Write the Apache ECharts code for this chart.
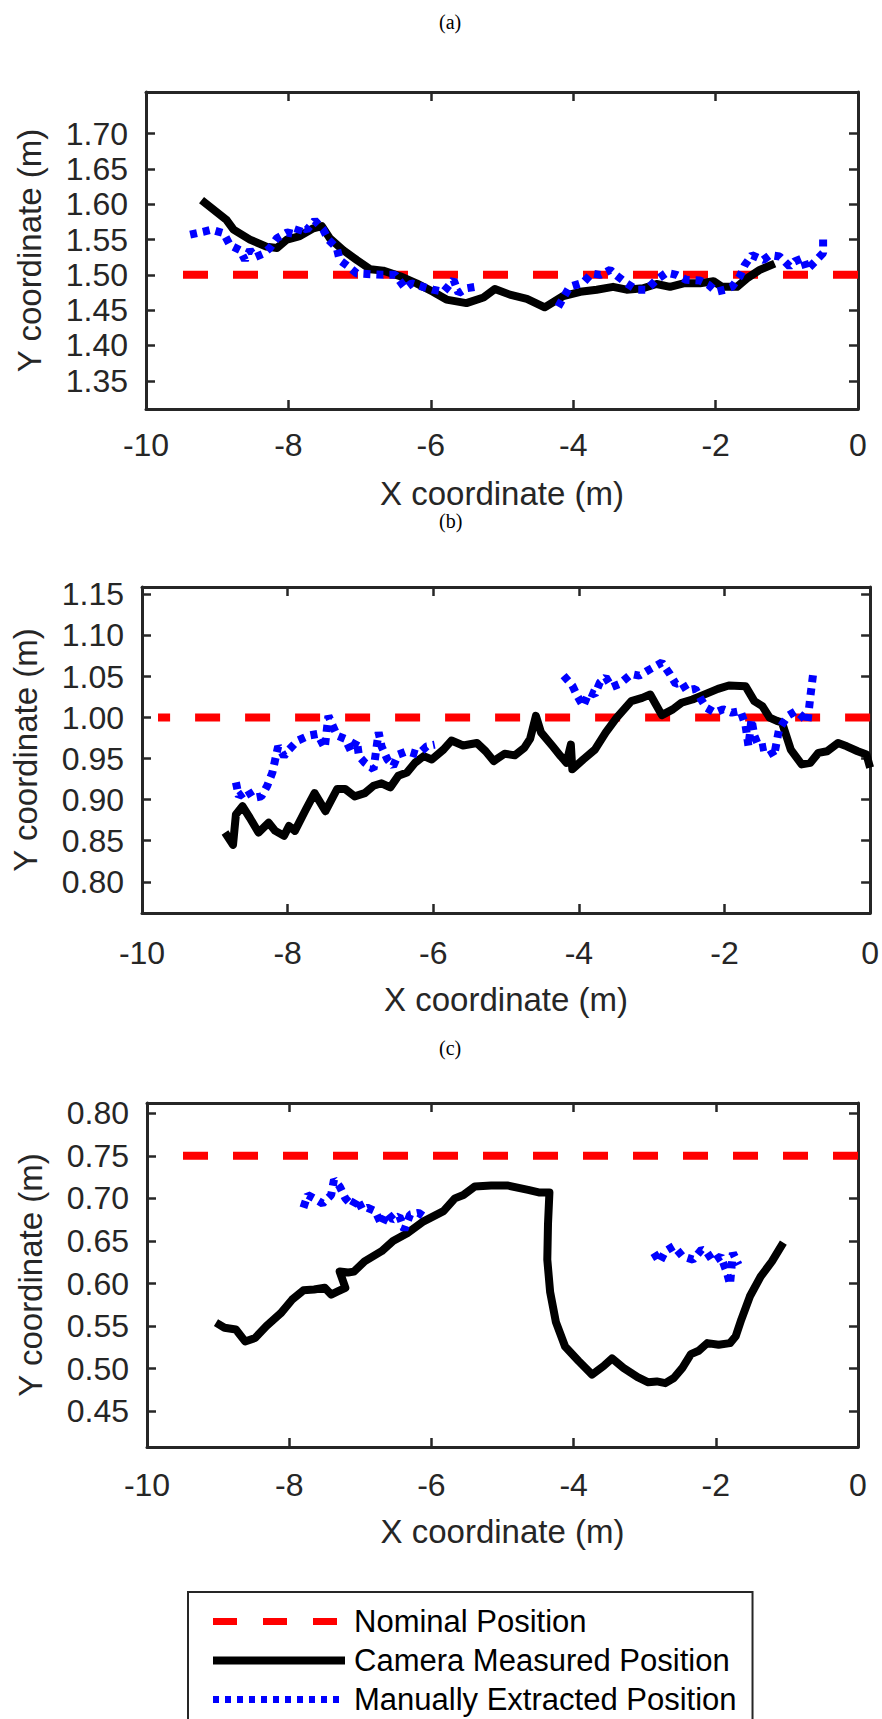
<!DOCTYPE html>
<html>
<head>
<meta charset="utf-8">
<script src="https://cdn.jsdelivr.net/npm/echarts@6/dist/echarts.min.js"></script>
<style>
html,body{margin:0;padding:0;background:#fff;}
#chart{width:882px;height:1719px;}
</style>
</head>
<body>
<div id="chart"></div>
<script>
// ---------------- data ----------------
const seriesNames = ['Nominal Position', 'Camera Measured Position', 'Manually Extracted Position'];
const panelTitles = ['(a)', '(b)', '(c)'];
const xTicks = [-10, -8, -6, -4, -2, 0];
const xLimits = [-10, 0];

const yLimitsA = [1.31, 1.759];
const yLimitsB = [0.762, 1.159];
const yLimitsC = [0.408, 0.812];
const yTicksA = [1.35, 1.40, 1.45, 1.50, 1.55, 1.60, 1.65, 1.70];
const yTicksB = [0.80, 0.85, 0.90, 0.95, 1.00, 1.05, 1.10, 1.15];
const yTicksC = [0.45, 0.50, 0.55, 0.60, 0.65, 0.70, 0.75, 0.80];

const nominalA = [[0, 1.50], [-9.82, 1.50]];
const nominalB = [[0, 1.00], [-9.78, 1.00]];
const nominalC = [[0, 0.75], [-9.80, 0.75]];

const cameraA = [[-9.22,1.606],[-8.87,1.578],[-8.77,1.564],[-8.54,1.550],[-8.31,1.540],[-8.16,1.538],[-8.02,1.550],[-7.84,1.555],[-7.65,1.566],[-7.53,1.569],[-7.42,1.552],[-7.23,1.535],[-7.04,1.521],[-6.85,1.508],[-6.67,1.506],[-6.43,1.498],[-6.20,1.488],[-5.97,1.476],[-5.78,1.465],[-5.50,1.460],[-5.26,1.468],[-5.10,1.480],[-4.89,1.472],[-4.65,1.466],[-4.40,1.454],[-4.14,1.470],[-3.90,1.476],[-3.67,1.479],[-3.44,1.483],[-3.25,1.479],[-3.02,1.481],[-2.83,1.487],[-2.64,1.483],[-2.45,1.488],[-2.22,1.488],[-2.03,1.491],[-1.91,1.483],[-1.70,1.483],[-1.56,1.495],[-1.38,1.507],[-1.17,1.516]];

const manualA1 = [[-9.38,1.557],[-9.20,1.561],[-9.08,1.564],[-8.91,1.559],[-8.82,1.542],[-8.68,1.535],[-8.61,1.521],[-8.54,1.535],[-8.47,1.525],[-8.35,1.530],[-8.26,1.538],[-8.16,1.552],[-8.02,1.560],[-7.88,1.557],[-7.84,1.569],[-7.74,1.564],[-7.63,1.577],[-7.51,1.564],[-7.44,1.550],[-7.32,1.538],[-7.28,1.521],[-7.16,1.512],[-7.04,1.502],[-6.85,1.501],[-6.67,1.500],[-6.50,1.500],[-6.36,1.481],[-6.27,1.488],[-6.11,1.483],[-5.97,1.479],[-5.82,1.476],[-5.68,1.493],[-5.61,1.474],[-5.50,1.481],[-5.38,1.483]];
const manualA2 = [[-4.21,1.455],[-4.05,1.483],[-3.86,1.489],[-3.74,1.502],[-3.62,1.500],[-3.48,1.507],[-3.39,1.499],[-3.25,1.488],[-3.11,1.479],[-2.97,1.479],[-2.83,1.493],[-2.69,1.503],[-2.55,1.500],[-2.41,1.493],[-2.22,1.492],[-2.10,1.486],[-1.99,1.476],[-1.87,1.479],[-1.77,1.483],[-1.66,1.498],[-1.59,1.514],[-1.49,1.528],[-1.33,1.521],[-1.24,1.528],[-1.10,1.526],[-0.96,1.512],[-0.89,1.519],[-0.77,1.524],[-0.72,1.507],[-0.60,1.519],[-0.49,1.531],[-0.49,1.550]];

const cameraB = [[-8.86,0.860],[-8.75,0.845],[-8.71,0.882],[-8.62,0.892],[-8.52,0.878],[-8.40,0.860],[-8.26,0.872],[-8.17,0.862],[-8.05,0.856],[-7.98,0.868],[-7.90,0.862],[-7.75,0.888],[-7.63,0.908],[-7.48,0.886],[-7.32,0.913],[-7.21,0.913],[-7.08,0.904],[-6.94,0.908],[-6.82,0.917],[-6.71,0.920],[-6.59,0.915],[-6.48,0.929],[-6.36,0.933],[-6.25,0.945],[-6.13,0.953],[-6.02,0.949],[-5.86,0.961],[-5.75,0.972],[-5.59,0.966],[-5.40,0.969],[-5.28,0.959],[-5.17,0.947],[-5.02,0.956],[-4.88,0.954],[-4.75,0.963],[-4.67,0.974],[-4.59,1.002],[-4.52,0.982],[-4.36,0.965],[-4.25,0.953],[-4.17,0.945],[-4.11,0.967],[-4.09,0.937],[-3.94,0.949],[-3.78,0.961],[-3.63,0.982],[-3.48,1.000],[-3.28,1.020],[-3.13,1.024],[-3.02,1.028],[-2.86,1.003],[-2.71,1.010],[-2.59,1.018],[-2.44,1.022],[-2.28,1.028],[-2.09,1.035],[-1.94,1.039],[-1.71,1.038],[-1.59,1.020],[-1.48,1.014],[-1.38,1.000],[-1.28,0.996],[-1.21,0.994],[-1.09,0.961],[-0.94,0.943],[-0.82,0.945],[-0.71,0.957],[-0.59,0.959],[-0.44,0.969],[-0.32,0.965],[-0.17,0.959],[-0.05,0.955],[0.00,0.939]];

const manualB1 = [[-8.71,0.921],[-8.67,0.904],[-8.55,0.912],[-8.48,0.902],[-8.36,0.904],[-8.28,0.917],[-8.21,0.933],[-8.17,0.949],[-8.13,0.965],[-8.05,0.953],[-7.98,0.961],[-7.86,0.972],[-7.71,0.978],[-7.59,0.980],[-7.49,0.963],[-7.44,1.002],[-7.38,0.990],[-7.32,0.978],[-7.21,0.974],[-7.13,0.959],[-7.05,0.972],[-7.02,0.953],[-6.94,0.945],[-6.82,0.937],[-6.75,0.982],[-6.71,0.965],[-6.63,0.949],[-6.55,0.941],[-6.48,0.955],[-6.36,0.959],[-6.21,0.955],[-6.09,0.965],[-5.98,0.967]];
const manualB2 = [[-4.21,1.051],[-4.09,1.039],[-4.02,1.026],[-3.94,1.014],[-3.86,1.031],[-3.78,1.028],[-3.71,1.043],[-3.63,1.049],[-3.55,1.037],[-3.44,1.041],[-3.28,1.053],[-3.17,1.051],[-3.02,1.059],[-2.86,1.067],[-2.75,1.053],[-2.67,1.041],[-2.59,1.043],[-2.52,1.033],[-2.40,1.035],[-2.32,1.022],[-2.25,1.012],[-2.13,1.006],[-2.02,1.010],[-1.90,1.006],[-1.78,1.008],[-1.71,0.990],[-1.67,0.965],[-1.63,0.998],[-1.59,0.978],[-1.52,0.963],[-1.40,0.965],[-1.32,0.953],[-1.25,0.986],[-1.13,1.002],[-1.02,1.008],[-0.94,1.002],[-0.86,0.994],[-0.82,1.026],[-0.78,1.055]];

const cameraC = [[-9.03,0.554],[-8.91,0.548],[-8.75,0.546],[-8.62,0.532],[-8.48,0.536],[-8.32,0.550],[-8.12,0.565],[-7.96,0.581],[-7.80,0.592],[-7.65,0.593],[-7.50,0.595],[-7.41,0.587],[-7.31,0.591],[-7.21,0.595],[-7.29,0.614],[-7.17,0.613],[-7.09,0.614],[-6.94,0.626],[-6.70,0.638],[-6.54,0.650],[-6.34,0.659],[-6.11,0.673],[-5.83,0.685],[-5.67,0.700],[-5.55,0.704],[-5.39,0.714],[-5.16,0.715],[-4.92,0.715],[-4.64,0.710],[-4.49,0.707],[-4.34,0.707],[-4.36,0.670],[-4.37,0.628],[-4.33,0.590],[-4.25,0.555],[-4.12,0.526],[-3.93,0.509],[-3.74,0.493],[-3.58,0.503],[-3.46,0.512],[-3.30,0.501],[-3.10,0.490],[-2.95,0.484],[-2.83,0.485],[-2.71,0.483],[-2.59,0.489],[-2.47,0.501],[-2.35,0.517],[-2.24,0.521],[-2.12,0.530],[-1.96,0.528],[-1.80,0.530],[-1.72,0.538],[-1.64,0.558],[-1.52,0.585],[-1.37,0.608],[-1.21,0.626],[-1.05,0.648]];

const manualC1 = [[-7.80,0.689],[-7.74,0.704],[-7.65,0.700],[-7.53,0.694],[-7.41,0.704],[-7.37,0.722],[-7.29,0.714],[-7.21,0.700],[-7.11,0.691],[-7.05,0.700],[-6.97,0.687],[-6.90,0.689],[-6.79,0.685],[-6.70,0.669],[-6.62,0.683],[-6.54,0.675],[-6.45,0.679],[-6.38,0.663],[-6.30,0.681],[-6.18,0.683],[-6.11,0.679]];
const manualC2 = [[-2.87,0.636],[-2.79,0.625],[-2.71,0.638],[-2.59,0.644],[-2.47,0.632],[-2.32,0.628],[-2.20,0.640],[-2.12,0.636],[-2.04,0.626],[-1.93,0.632],[-1.84,0.612],[-1.80,0.599],[-1.76,0.636],[-1.68,0.622]];

// ---------------- styling / layout ----------------
const AX = '#262626';
const SANS = 'Liberation Sans, Arial, Helvetica, sans-serif';
const SERIF = 'Liberation Serif, Times New Roman, serif';

const panels = [
  {grid:{left:146, top:92, width:712, height:317}, yLim:yLimitsA, yTicks:yTicksA, lblMargin:20, nameGap:68,
   nominal:nominalA, camera:[cameraA], manual:[manualA1, manualA2], titleTop:7},
  {grid:{left:142, top:587, width:731, height:326}, yLim:yLimitsB, yTicks:yTicksB, lblMargin:24, nameGap:70,
   nominal:nominalB, camera:[cameraB], manual:[manualB1, manualB2], titleTop:506},
  {grid:{left:147, top:1103, width:711, height:344}, yLim:yLimitsC, yTicks:yTicksC, lblMargin:22, nameGap:68,
   nominal:nominalC, camera:[cameraC], manual:[manualC1, manualC2], titleTop:1033}
];

const grids = [], xAxes = [], yAxes = [], series = [], titles = [];
const tickStyle = {color: AX, width: 2.5};
const lineStyleAx = {color: AX, width: 3};

panels.forEach((p, gi) => {
  grids.push(Object.assign({containLabel:false}, p.grid));
  titles.push({text: panelTitles[gi], left: 434, top: p.titleTop,
    textStyle:{fontFamily: SERIF, fontSize: 20, fontWeight:'normal', color:'#000'}});
  xAxes.push({gridIndex: gi, type:'value', position:'bottom', min: xLimits[0], max: xLimits[1], interval: 2,
    name:'X coordinate (m)', nameLocation:'middle', nameGap: p.nameGap,
    nameTextStyle:{fontFamily:SANS, fontSize:33, color:AX},
    axisLine:{show:true, onZero:false, lineStyle:lineStyleAx},
    axisTick:{show:true, inside:true, length:9, lineStyle:tickStyle},
    axisLabel:{show:true, fontFamily:SANS, fontSize:32, color:AX, margin:p.lblMargin},
    splitLine:{show:false}});
  xAxes.push({gridIndex: gi, type:'value', position:'top', min: xLimits[0], max: xLimits[1], interval: 2,
    axisLine:{show:true, onZero:false, lineStyle:lineStyleAx},
    axisTick:{show:true, inside:true, length:9, lineStyle:tickStyle},
    axisLabel:{show:false}, splitLine:{show:false}});
  yAxes.push({gridIndex: gi, type:'value', position:'left', min: p.yLim[0], max: p.yLim[1],
    name:'Y coordinate (m)', nameLocation:'middle', nameGap: 100,
    nameTextStyle:{fontFamily:SANS, fontSize:33, color:AX},
    axisLine:{show:true, onZero:false, lineStyle:lineStyleAx},
    axisTick:{show:true, inside:true, length:9, lineStyle:tickStyle, customValues: p.yTicks},
    axisLabel:{show:true, fontFamily:SANS, fontSize:32, color:AX, margin:18, customValues: p.yTicks,
      formatter: v => Number(v).toFixed(2)},
    splitLine:{show:false}});
  yAxes.push({gridIndex: gi, type:'value', position:'right', min: p.yLim[0], max: p.yLim[1],
    axisLine:{show:true, onZero:false, lineStyle:lineStyleAx},
    axisTick:{show:true, inside:true, length:9, lineStyle:tickStyle, customValues: p.yTicks},
    axisLabel:{show:false}, splitLine:{show:false}});

  const xi = gi * 2, yi = gi * 2;
  series.push({name: seriesNames[0], type:'line', xAxisIndex:xi, yAxisIndex:yi, data:p.nominal,
    showSymbol:false, symbol:'none', silent:true, animation:false,
    lineStyle:{color:'#ff0000', width:8, type:[25,25], cap:'butt'}, itemStyle:{color:'#ff0000'}});
  p.camera.forEach(d => series.push({name: seriesNames[1], type:'line', xAxisIndex:xi, yAxisIndex:yi, data:d,
    showSymbol:false, symbol:'none', silent:true, animation:false,
    lineStyle:{color:'#000000', width:8, type:'solid', join:'round', cap:'butt'}, itemStyle:{color:'#000'}}));
  p.manual.forEach(d => series.push({name: seriesNames[2], type:'line', xAxisIndex:xi, yAxisIndex:yi, data:d,
    showSymbol:false, symbol:'none', silent:true, animation:false,
    lineStyle:{color:'#0000ff', width:8, type:[7,6], cap:'butt'}, itemStyle:{color:'#0000ff'}}));
});

const chart = echarts.init(document.getElementById('chart'), null, {renderer:'svg'});
chart.setOption({
  backgroundColor:'#ffffff',
  animation:false,
  title: titles,
  grid: grids,
  xAxis: xAxes,
  yAxis: yAxes,
  legend: {
    data: [
      {name: seriesNames[0], lineStyle:{width:7, type:[24,26], color:'#ff0000'}},
      {name: seriesNames[1], lineStyle:{width:8, type:'solid', color:'#000000'}},
      {name: seriesNames[2], lineStyle:{width:7, type:[6,6], color:'#0000ff'}}
    ],
    orient:'vertical', left:188, top:1592, height:150,
    padding:[14, 16, 24, 21], itemWidth:132, itemHeight:14, itemGap:8,
    borderColor:AX, borderWidth:2, backgroundColor:'#ffffff', selectedMode:false,
    itemStyle:{opacity:0},
    textStyle:{fontFamily:SANS, fontSize:31, color:'#000', lineHeight:30, padding:[0,0,0,4]}
  },
  series: series
});
</script>
</body>
</html>
